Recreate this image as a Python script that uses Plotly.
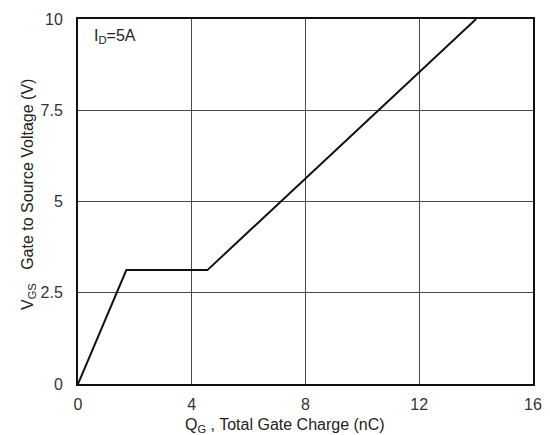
import plotly.graph_objects as go

# Data
qg_nc = [0, 1.7, 4.55, 14.0]
vgs_v = [0, 3.12, 3.12, 10.0]

x_ticks = [0, 4, 8, 12, 16]
y_ticks = [0, 2.5, 5, 7.5, 10]
y_tick_labels = ["0", "2.5", "5", "7.5", "10"]

FONT = "Liberation Sans, Arial, sans-serif"

# page has an 8px body margin -> figure origin at (8, 8) in the window
OX, OY = 8, 8
W, H = 550 - OX, 435 - OY
ML, MR, MT, MB = 78 - OX, 17, 19 - OY, 51
PW, PH = W - ML - MR, H - MT - MB


def px2paper(px, py):
    return (px - OX - ML) / PW, 1 - (py - OY - MT) / PH


fig = go.Figure()
fig.add_trace(go.Scatter(
    x=qg_nc, y=vgs_v, mode="lines",
    line=dict(color="#111111", width=2),
    showlegend=False, hoverinfo="skip",
))

ann = []
x, y = px2paper(92, 36)
ann.append(dict(text="I<sub>D</sub>=5A", x=x, y=y, xref="paper", yref="paper",
                xanchor="left", yanchor="middle", showarrow=False,
                font=dict(family=FONT, size=16, color="#222222")))
x, y = px2paper(285, 425)
ann.append(dict(text="Q<sub>G</sub> , Total Gate Charge (nC)", x=x, y=y,
                xref="paper", yref="paper", xanchor="center", yanchor="middle",
                showarrow=False, font=dict(family=FONT, size=16, color="#222222")))
x, y = px2paper(28, 195)
ann.append(dict(text="V<sub>GS</sub>   Gate to Source Voltage (V)", x=x, y=y,
                xref="paper", yref="paper", xanchor="center", yanchor="middle",
                showarrow=False, textangle=-90,
                font=dict(family=FONT, size=16, color="#222222")))

fig.update_layout(
    width=W, height=H,
    margin=dict(l=ML, r=MR, t=MT, b=MB, autoexpand=False),
    paper_bgcolor="white", plot_bgcolor="white",
    font=dict(family=FONT, size=16, color="#333333"),
    xaxis=dict(
        range=[0, 16], tickvals=x_ticks, ticktext=[str(v) for v in x_ticks],
        showgrid=True, gridcolor="#4a4a4a", gridwidth=1,
        zeroline=False, showline=True, linecolor="#111111", linewidth=2,
        mirror=True, ticks="", ticklabelstandoff=5,
    ),
    yaxis=dict(
        range=[0, 10], tickvals=y_ticks, ticktext=y_tick_labels,
        showgrid=True, gridcolor="#4a4a4a", gridwidth=1,
        zeroline=False, showline=True, linecolor="#111111", linewidth=2,
        mirror=True, ticks="", ticklabelstandoff=10,
    ),
    annotations=ann,
)

fig.write_html("out.html")
